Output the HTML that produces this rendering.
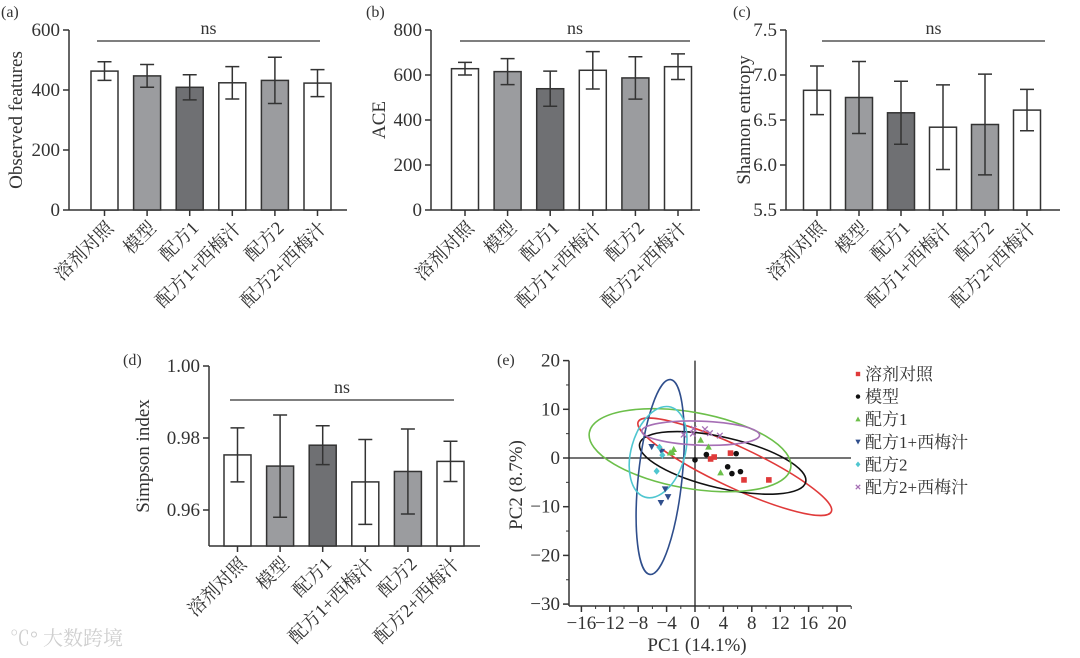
<!DOCTYPE html>
<html><head><meta charset="utf-8">
<style>
html,body{margin:0;padding:0;background:#fff;}
svg{display:block;}
text{font-family:"Liberation Serif","Noto Serif CJK SC",serif;fill:#333;}
</style></head>
<body>
<svg id="fig" width="1080" height="658" viewBox="0 0 1080 658" xmlns="http://www.w3.org/2000/svg">
<text x="1" y="17" font-size="16">(a)</text>
<text x="366" y="17" font-size="16">(b)</text>
<text x="733" y="17" font-size="16">(c)</text>
<text x="123" y="365" font-size="16">(d)</text>
<text x="497" y="365" font-size="16">(e)</text>
<text x="10" y="645" font-size="20" style="fill:#cfcfcf">℃° 大数跨境</text>
</svg>
<script>
const NS='http://www.w3.org/2000/svg';
const svg=document.getElementById('fig');
function mk(tag,attrs,parent){const e=document.createElementNS(NS,tag);for(const k in attrs)e.setAttribute(k,attrs[k]);(parent||svg).appendChild(e);return e;}

const groups=['溶剂对照','模型','配方1','配方1+西梅汁','配方2','配方2+西梅汁'];
const fills=['#ffffff','#9b9c9f','#6f7073','#ffffff','#9b9c9f','#ffffff'];

// panel (a)
const obsMean=[463,447,409,424,432,423];
const obsSd=[31,38,42,54,77,45];
const obsTicks=[0,200,400,600];
// panel (b)
const aceMean=[628,615,539,621,587,637];
const aceSd=[28,58,78,83,94,57];
const aceTicks=[0,200,400,600,800];
// panel (c)
const shanMean=[6.83,6.75,6.58,6.42,6.45,6.61];
const shanSd=[0.27,0.40,0.35,0.47,0.56,0.23];
const shanTicks=[5.5,6.0,6.5,7.0,7.5];
const shanLabels=['5.5','6.0','6.5','7.0','7.5'];
// panel (d)
const simpMean=[0.9753,0.9722,0.9780,0.9678,0.9707,0.9735];
const simpSd=[0.0075,0.0142,0.0054,0.0118,0.0118,0.0056];
const simpTicks=[0.96,0.98,1.00];
const simpLabels=['0.96','0.98','1.00'];

function barPanel(o){
  const g=mk('g',{});
  
  
  const ys=v=>o.y0-(v-o.vmin)/(o.vmax-o.vmin)*(o.y0-o.y1);
  const xs=i=>o.first+i*o.step;
  const ya=mk('line',{x1:o.ax,y1:o.y1,x2:o.ax,y2:o.y0,stroke:'#333','stroke-width':1.5},g);
  
  
  const xa=mk('line',{x1:o.ax,y1:o.y0,x2:o.xend,y2:o.y0,stroke:'#333','stroke-width':1.5},g);
  
  
  o.ticks.forEach((t,k)=>{
    const y=ys(t);
    mk('line',{x1:o.ax-6,y1:y,x2:o.ax,y2:y,stroke:'#333','stroke-width':1.5},g);
    const tx=mk('text',{x:o.ax-9,y:y+6,'font-size':19,'text-anchor':'end'},g);
    tx.textContent=o.labels?o.labels[k]:String(t);
    
    
  });
  o.mean.forEach((m,i)=>{
    const cx=xs(i),top=ys(m);
    const r=mk('rect',{x:cx-13.5,y:top,width:27,height:o.y0-top,fill:fills[i],stroke:'#333','stroke-width':1.5},g);
    
    
    const hi=ys(m+o.sd[i]),lo=ys(m-o.sd[i]);
    const eb=mk('path',{d:`M${cx},${hi}V${lo}M${cx-7},${hi}H${cx+7}M${cx-7},${lo}H${cx+7}`,stroke:'#333','stroke-width':1.5,fill:'none'},g);
    
    
    mk('line',{x1:cx,y1:o.y0,x2:cx,y2:o.y0+6,stroke:'#333','stroke-width':1.5},g);
    const lab=mk('text',{x:0,y:0,'font-size':18.5,'text-anchor':'end',transform:`translate(${cx+10},${o.y0+19}) rotate(-45)`},g);
    lab.textContent=groups[i];
    
    
  });
  const ns=mk('line',{x1:o.nsx1,y1:o.nsy,x2:o.nsx2,y2:o.nsy,stroke:'#333','stroke-width':1.3},g);
  
  
  const nst=mk('text',{x:(o.nsx1+o.nsx2)/2,y:o.nsy-7,'font-size':18,'text-anchor':'middle'},g);
  nst.textContent='ns';
  
  
  const yt=mk('text',{x:0,y:0,'font-size':19,'text-anchor':'middle',transform:`translate(${o.ytx},${(o.y0+o.y1)/2}) rotate(-90)`},g);
  yt.textContent=o.ytitle;
  
  
}
barPanel({name:'observed-features-chart',ax:69,xend:347,y0:210,y1:30,vmin:0,vmax:600,first:104.5,step:42.6,mean:obsMean,sd:obsSd,ticks:obsTicks,nsx1:97,nsx2:320,nsy:41,ytitle:'Observed features',ytx:22});
barPanel({name:'ace-chart',ax:431,xend:700,y0:210,y1:30,vmin:0,vmax:800,first:465,step:42.6,mean:aceMean,sd:aceSd,ticks:aceTicks,nsx1:460,nsx2:690,nsy:41,ytitle:'ACE',ytx:385});
barPanel({name:'shannon-chart',ax:786,xend:1060,y0:210,y1:30,vmin:5.5,vmax:7.5,first:817,step:42,mean:shanMean,sd:shanSd,ticks:shanTicks,labels:shanLabels,nsx1:822,nsx2:1045,nsy:41,ytitle:'Shannon entropy',ytx:750});
barPanel({name:'simpson-chart',ax:209,xend:480,y0:546,y1:366,vmin:0.95,vmax:1.00,first:237.5,step:42.6,mean:simpMean,sd:simpSd,ticks:simpTicks,labels:simpLabels,nsx1:230,nsx2:454,nsy:400,ytitle:'Simpson index',ytx:149});

// panel (e) PCA
const pcaGroups=['溶剂对照','模型','配方1','配方1+西梅汁','配方2','配方2+西梅汁'];
const pcaColors=['#e03a3a','#111111','#6cbf4a','#2f4e8c','#4fc6d0','#a66fb5'];
const pcaX=[[2.2,2.7,5.0,6.9,10.4],[0,1.6,5.8,4.6,5.2,6.4],[0.8,1.9,-3.5,-3.2,3.6,-3.0],[-6.1,-4.7,-4.2,-3.8,-4.8],[-5.0,-5.4,-4.6],[-1.6,-0.3,-0.2,1.4,2.1,3.5]];
const pcaY=[[-0.2,0.2,1.0,-4.5,-4.5],[-0.4,0.7,0.9,-1.8,-3.2,-2.8],[3.7,2.3,1.1,1.2,-3.0,1.8],[2.3,1.3,-6.4,-8.0,-9.2],[2.2,-2.7,0.6],[4.8,5.0,6.0,5.9,5.1,4.6]];
const ellCx=[5.6,3.9,-0.7,-4.9,-5.2,0.8];
const ellCy=[-1.8,-1.0,1.6,-3.9,1.2,5.1];
const ellA=[15.0,12.0,14.4,13.8,6.6,8.3];
const ellB=[2.9,3.6,5.4,3.1,3.8,1.7];
const ellAng=[25,13,10,-84,-74,2];
const xTicksE=[-16,-12,-8,-4,0,4,8,12,16,20];
const yTicksE=[-30,-20,-10,0,10,20];
(function(){
  const g=mk('g',{});
  
  
  const X0=695,KX=7.1,Y0=458,KY=4.87,AX=569,AY=606;
  const xs=v=>X0+v*KX, ys=v=>Y0-v*KY;
  const ya=mk('line',{x1:AX,y1:ys(20),x2:AX,y2:AY,stroke:'#333','stroke-width':1.5},g);
  
  
  const xa=mk('line',{x1:AX,y1:AY,x2:851,y2:AY,stroke:'#333','stroke-width':1.5},g);
  
  
  yTicksE.forEach(t=>{
    mk('line',{x1:AX-6,y1:ys(t),x2:AX,y2:ys(t),stroke:'#333','stroke-width':1.5},g);
    if(t<20) mk('line',{x1:AX-3,y1:ys(t+5),x2:AX,y2:ys(t+5),stroke:'#333','stroke-width':1},g);
    const tx=mk('text',{x:AX-9,y:ys(t)+6,'font-size':19,'text-anchor':'end'},g);
    tx.textContent=t<0?'\u2212'+(-t):String(t);
    
    
  });
  xTicksE.forEach(t=>{
    mk('line',{x1:xs(t),y1:AY,x2:xs(t),y2:AY+6,stroke:'#333','stroke-width':1.5},g);
    mk('line',{x1:xs(t+2),y1:AY,x2:xs(t+2),y2:AY+3,stroke:'#333','stroke-width':1},g);
    const tx=mk('text',{x:xs(t),y:AY+23,'font-size':19,'text-anchor':'middle'},g);
    tx.textContent=t<0?'\u2212'+(-t):String(t);
    
    
  });
  mk('line',{x1:X0,y1:ys(20),x2:X0,y2:AY,stroke:'#222','stroke-width':1.3},g);
  mk('line',{x1:AX,y1:Y0,x2:851,y2:Y0,stroke:'#222','stroke-width':1.3},g);
  pcaGroups.forEach((nm,i)=>{
    const e=mk('ellipse',{cx:0,cy:0,rx:ellA[i]*KX,ry:ellB[i]*KY*1.45,fill:'none',stroke:pcaColors[i],'stroke-width':1.6,transform:`translate(${xs(ellCx[i])},${ys(ellCy[i])}) rotate(${ellAng[i]})`},g);
    
    
  });
  function marker(type,x,y,c,s){
    let el;
    if(type===0) el=mk('rect',{x:x-s,y:y-s,width:2*s,height:2*s,fill:c},g);
    else if(type===1) el=mk('circle',{cx:x,cy:y,r:s,fill:c},g);
    else if(type===2) el=mk('path',{d:`M${x},${y-s*1.2}L${x+s*1.2},${y+s}L${x-s*1.2},${y+s}Z`,fill:c},g);
    else if(type===3) el=mk('path',{d:`M${x},${y+s*1.2}L${x+s*1.2},${y-s}L${x-s*1.2},${y-s}Z`,fill:c},g);
    else if(type===4) el=mk('path',{d:`M${x},${y-s*1.3}L${x+s*1.1},${y}L${x},${y+s*1.3}L${x-s*1.1},${y}Z`,fill:c},g);
    else el=mk('path',{d:`M${x-s},${y-s}L${x+s},${y+s}M${x-s},${y+s}L${x+s},${y-s}`,stroke:c,'stroke-width':1.3,fill:'none'},g);
    return el;
  }
  pcaX.forEach((arr,i)=>{
    arr.forEach((v,j)=>{
      const m=marker(i,xs(v),ys(pcaY[i][j]),pcaColors[i],2.8);
      
      
    });
  });
  pcaGroups.forEach((nm,i)=>{
    const y=374+i*22.6;
    const m=marker(i,858,y,pcaColors[i],2.2);
    
    
    const t=mk('text',{x:865,y:y+6,'font-size':17},g);
    t.textContent=nm;
    
    
  });
  const yt=mk('text',{x:0,y:0,'font-size':19,'text-anchor':'middle',transform:`translate(522,485) rotate(-90)`},g);
  yt.textContent='PC2 (8.7%)';
  
  
  const xt=mk('text',{x:697,y:651,'font-size':19,'text-anchor':'middle'},g);
  xt.textContent='PC1 (14.1%)';
  
  
})();
</script>
</body></html>
